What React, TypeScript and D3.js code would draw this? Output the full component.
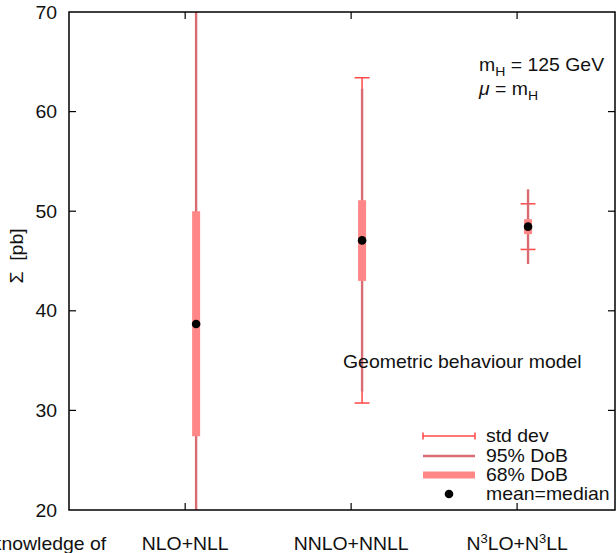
import React from "react";
import * as d3 from "d3";

// ---- data ----
const categoryPos = [0, 1, 2, 3];
const categoryLabels = ["knowledge of", "NLO+NLL", "NNLO+NNLL", "N3LO+N3LL"];
const means = [38.67, 47.07, 48.45];
const stdDevs = [33.5, 16.33, 2.29];
const ci95Low = [12, 31.9, 44.7];
const ci95High = [80, 62.3, 52.2];
const ci68Low = [27.4, 43.0, 47.7];
const ci68High = [50.0, 51.1, 49.2];
const yTicks = [20, 30, 40, 50, 60, 70];

// ---- layout ----
const W = 616, H = 553;
const plotLeft = 69, plotRight = 615, plotTop = 12, plotBottom = 510;
const xDomain = [0.3, 3.59];
const markOffset = 0.066;

const C_STD = "#ff4848";
const C_95 = "#d96c72";
const C_68 = "#ff8787";
const FONT = "'Liberation Sans', Arial, Helvetica, sans-serif";
const FS = 18;
const SX = 1.08;

function T({ x, y, anchor = "start", children, rotate = 0, size = FS }: any) {
  return (
    <g transform={`translate(${x},${y}) rotate(${rotate}) scale(${SX},1)`}>
      <text x={0} y={0} textAnchor={anchor} fontFamily={FONT} fontSize={size} fill="#111" style={{ whiteSpace: "pre" }}>
        {children}
      </text>
    </g>
  );
}

export default function App() {
  const x = d3.scaleLinear().domain(xDomain).range([plotLeft, plotRight]);
  const y = d3.scaleLinear().domain([20, 70]).range([plotBottom, plotTop]);
  const idx = [0, 1, 2];
  const capHalf = 7.5;
  const legX0 = 423, legX1 = 475, legTX = 486;
  const legY = [436, 456, 475, 494];

  const labelNode = (lab: string) => {
    if (lab.includes("3")) {
      return (
        <>
          N<tspan fontSize={12} dy={-7}>3</tspan>
          <tspan dy={7}>LO+N</tspan>
          <tspan fontSize={12} dy={-7}>3</tspan>
          <tspan dy={7}>LL</tspan>
        </>
      );
    }
    return lab;
  };

  return (
    <svg width={W} height={H} style={{ position: "absolute", left: 0, top: 0, background: "#fff" }}>
      <defs>
        <clipPath id="plotclip">
          <rect x={plotLeft} y={plotTop} width={plotRight - plotLeft} height={plotBottom - plotTop} />
        </clipPath>
      </defs>

      {/* marks */}
      <g clipPath="url(#plotclip)">
        {idx.map((i) => {
          const cx = x(categoryPos[i + 1] + markOffset);
          const top = y(means[i] + stdDevs[i]);
          const bot = y(means[i] - stdDevs[i]);
          return (
            <g key={i}>
              <line x1={cx} x2={cx} y1={top} y2={bot} stroke={C_STD} strokeWidth={1.5} />
              <line x1={cx - capHalf} x2={cx + capHalf} y1={top} y2={top} stroke={C_STD} strokeWidth={1.5} />
              <line x1={cx - capHalf} x2={cx + capHalf} y1={bot} y2={bot} stroke={C_STD} strokeWidth={1.5} />
              <line x1={cx} x2={cx} y1={y(ci95High[i])} y2={y(ci95Low[i])} stroke={C_95} strokeWidth={2.4} />
              <line x1={cx} x2={cx} y1={y(ci68High[i])} y2={y(ci68Low[i])} stroke={C_68} strokeWidth={8} />
              <circle cx={cx} cy={y(means[i])} r={4.3} fill="#000" />
            </g>
          );
        })}
      </g>

      {/* frame */}
      <rect x={plotLeft} y={plotTop} width={plotRight - plotLeft} height={plotBottom - plotTop} fill="none" stroke="#000" strokeWidth={1.5} />

      {/* y ticks */}
      {yTicks.map((t) => (
        <g key={t}>
          {t !== 20 && t !== 70 && (
            <>
              <line x1={plotLeft} x2={plotLeft + 7} y1={y(t)} y2={y(t)} stroke="#000" strokeWidth={1.2} />
              <line x1={plotRight - 7} x2={plotRight} y1={y(t)} y2={y(t)} stroke="#000" strokeWidth={1.2} />
            </>
          )}
          <T x={57} y={y(t) + 6.5} anchor="end">{t}</T>
        </g>
      ))}

      {/* x ticks + labels */}
      {categoryPos.map((c, i) => (
        <g key={c}>
          {c > xDomain[0] && (
            <>
              <line x1={x(c)} x2={x(c)} y1={plotBottom} y2={plotBottom - 7} stroke="#000" strokeWidth={1.2} />
              <line x1={x(c)} x2={x(c)} y1={plotTop} y2={plotTop + 7} stroke="#000" strokeWidth={1.2} />
            </>
          )}
          {i === 0 ? (
            <T x={x(c) + 87} y={550} anchor="end">{categoryLabels[i]}</T>
          ) : (
            <T x={x(c)} y={550} anchor="middle">{labelNode(categoryLabels[i])}</T>
          )}
        </g>
      ))}

      {/* y axis title */}
      <T x={23} y={256} anchor="middle" rotate={-90}>{"Σ  [pb]"}</T>

      {/* annotations */}
      <T x={479} y={71}>
        m<tspan fontSize={13} dy={5}>H</tspan>
        <tspan dy={-5}> = 125 GeV</tspan>
      </T>
      <T x={479} y={95}>
        <tspan fontStyle="italic">μ</tspan> = m<tspan fontSize={13} dy={5}>H</tspan>
      </T>
      <T x={343} y={368}>Geometric behaviour model</T>

      {/* legend */}
      <g>
        <line x1={legX0} x2={legX1} y1={legY[0]} y2={legY[0]} stroke={C_STD} strokeWidth={1.5} />
        <line x1={legX0} x2={legX0} y1={legY[0] - 3.5} y2={legY[0] + 3.5} stroke={C_STD} strokeWidth={1.5} />
        <line x1={legX1} x2={legX1} y1={legY[0] - 3.5} y2={legY[0] + 3.5} stroke={C_STD} strokeWidth={1.5} />
        <T x={legTX} y={legY[0] + 6}>std dev</T>
        <line x1={legX0} x2={legX1} y1={legY[1]} y2={legY[1]} stroke={C_95} strokeWidth={2.4} />
        <T x={legTX} y={legY[1] + 6}>95% DoB</T>
        <line x1={legX0} x2={legX1} y1={legY[2]} y2={legY[2]} stroke={C_68} strokeWidth={7} />
        <T x={legTX} y={legY[2] + 6}>68% DoB</T>
        <circle cx={(legX0 + legX1) / 2} cy={legY[3]} r={4.3} fill="#000" />
        <T x={legTX} y={legY[3] + 6}>mean=median</T>
      </g>
    </svg>
  );
}
